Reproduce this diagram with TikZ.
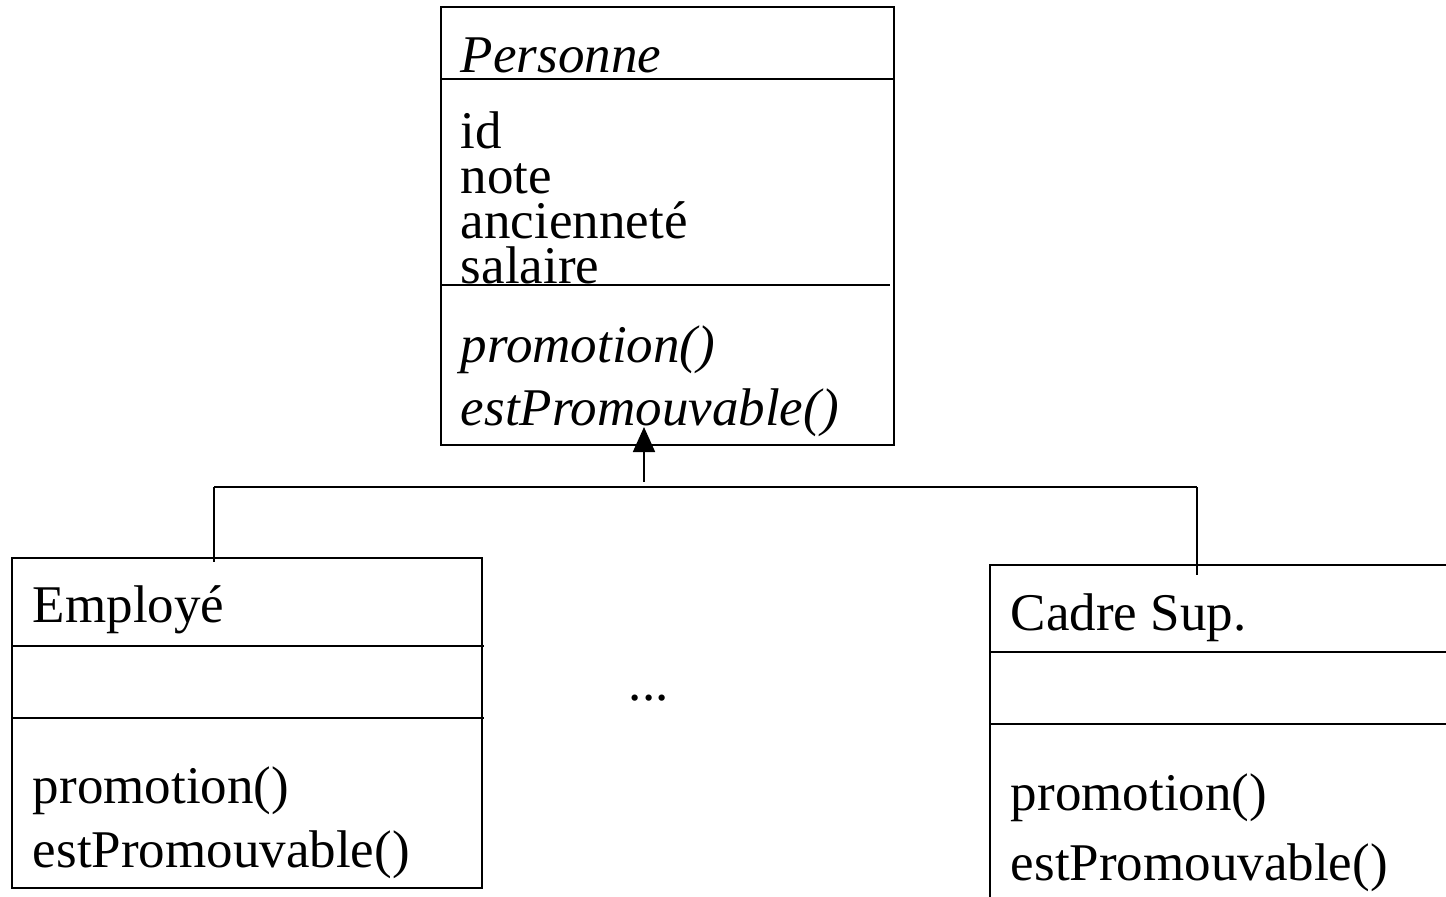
\documentclass[tikz,border=0pt]{standalone}
\usepackage{fontspec}
\setmainfont{Liberation Serif}
\usetikzlibrary{arrows.meta}
\begin{document}
\begin{tikzpicture}[x=1pt,y=-1pt, line width=1.8pt,
  txt/.style={anchor=base west, inner sep=0pt, font=\fontsize{53}{53}\selectfont},
  itxt/.style={anchor=base west, inner sep=0pt, font=\fontsize{53}{53}\selectfont\itshape},
  attrs/.style={anchor=base west, inner sep=0pt, align=left, font=\fontsize{53}{45}\selectfont},
  classbox/.style={draw, anchor=north west, inner sep=0pt, outer sep=0pt, minimum width=470pt}]
\useasboundingbox (0,0) rectangle (1446,897);
\fill[white] (0,0) rectangle (1446,897);
\clip (0,0) rectangle (1446,897);

% abstract class Personne
\node[classbox, minimum width=453pt, minimum height=438pt] (pers) at (441,7) {};
\draw (441,79) -- (894,79);
\draw (441,285) -- (890,285);
\node[itxt] (persname) at (460,72) {Personne};
% attribute list, anchored on the baseline of its last line
\node[attrs] (pattrs) at (460,283) {id\\note\\ancienneté\\salaire};
\node[itxt] (pprom) at (460,362) {promotion()};
\node[itxt] (pest) at (460,425) {estPromouvable()};

% class Employé
\node[classbox, minimum height=330pt] (emp) at (12,558) {};
\draw (12,646) -- (484,646);
\draw (12,718) -- (484,718);
\node[txt] (empname) at (32,622) {Employé};
\node[txt] (eprom) at (32,803) {promotion()};
\node[txt] (eest) at (32,867) {estPromouvable()};

% class Cadre Sup.
\node[classbox, minimum height=360pt] (cad) at (990,565) {};
\draw (990,652) -- (1460,652);
\draw (990,724) -- (1460,724);
\node[txt] (cadname) at (1010,630) {Cadre Sup.};
\node[txt] (cprom) at (1010,810) {promotion()};
\node[txt] (cest) at (1010,880) {estPromouvable()};

\node[txt] (dots) at (628,700) {...};

% generalisation
\coordinate (tail) at (644,482);
\coordinate (tip) at (644,427);
\coordinate (jl) at (214,487);
\coordinate (jr) at (1197,487);
\coordinate (el) at (214,562);
\coordinate (cr) at (1197,575);
\draw[-{Triangle[length=25pt,width=22pt]}] (tail) -- (tip);
\draw (jl) -- (jr);
\draw (jl) -- (el);
\draw (jr) -- (cr);
\end{tikzpicture}
\end{document}
